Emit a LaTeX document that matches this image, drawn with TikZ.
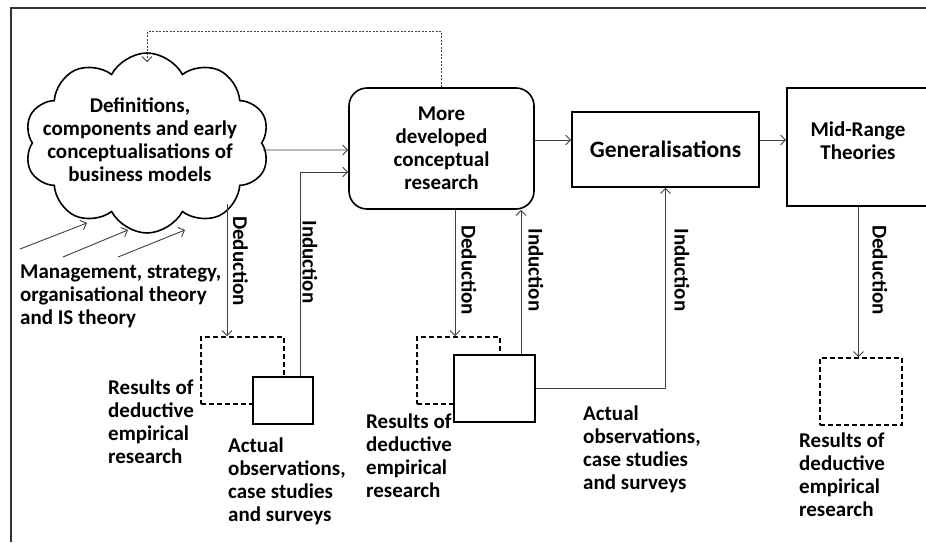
\documentclass[tikz,border=0pt]{standalone}
\usepackage{fontspec}
\setmainfont{Carlito}
\usetikzlibrary{shapes.symbols,arrows.meta}
\begin{document}
\begin{tikzpicture}[x=1pt,y=1pt,
 box/.style={draw, line width=1.6pt, fill=white, inner sep=0pt},
 dbox/.style={draw, line width=1.6pt, dash pattern=on 5pt off 3pt, inner sep=0pt},
 conn/.style={draw=black!75, line width=0.9pt, -{Straight Barb[length=5pt,width=10pt]}},
 txt/.style={font=\fontsize{21}{23}\selectfont\bfseries, inner sep=0pt},
 lbl/.style={txt, align=left, anchor=west},
 vlbl/.style={txt, rotate=-90},
]
\fill[white] (0,0) rectangle (926,542);
\useasboundingbox (0,0) rectangle (926,542);
\draw[line width=1.2pt, black!80] (11,0) -- (11,534) -- (926,534);

% main nodes
\node[cloud, cloud puffs=10, cloud puff arc=125, draw, line width=1.6pt, minimum width=245pt, minimum height=180pt, aspect=1.36] (defs) at (147,399) {};
\node[txt, align=center] (defstext) at (140,402.5) {Definitions,\\components and early\\conceptualisations of\\business models};
\node[box, rounded corners=18pt, minimum width=185pt, minimum height=121pt, align=center, txt] (mdc) at (441.5,393.5) {More\\developed\\conceptual\\research};
\node[box, minimum width=187pt, minimum height=75pt, font=\fontsize{23.5}{26}\selectfont\bfseries] (gen) at (665.5,392.5) {Generalisations};
\node[box, minimum width=143pt, minimum height=118pt] (mrt) at (858.5,395) {};
\node[txt, align=center] (mrttext) at (858,401.5) {Mid-Range\\Theories};

% lower boxes
\node[dbox, minimum width=83pt, minimum height=67pt] (db1) at (242.5,171.5) {};
\node[box, minimum width=60pt, minimum height=47pt] (sb1) at (283,141.5) {};
\node[dbox, minimum width=83pt, minimum height=67pt] (db2) at (458.5,171.5) {};
\node[box, minimum width=81pt, minimum height=67pt] (sb2) at (494.5,153.5) {};
\node[dbox, minimum width=82pt, minimum height=67pt] (db3) at (861,150.5) {};

% texts
\node[lbl] (mgmt) at (20,246) {Management, strategy,\\organisational theory\\and IS theory};
\node[lbl] (res1) at (108,120.5) {Results of\\deductive\\empirical\\research};
\node[lbl] (act1) at (228,60.5) {Actual\\observations,\\case studies\\and surveys};
\node[lbl] (res2) at (366,86) {Results of\\deductive\\empirical\\research};
\node[lbl] (act2) at (583,93) {Actual\\observations,\\case studies\\and surveys};
\node[lbl] (res3) at (799,67) {Results of\\deductive\\empirical\\research};

\node[vlbl] (ded1) at (240.5,281) {Deduction};
\node[vlbl] (ind1) at (310,280) {Induction};
\node[vlbl] (ded2) at (469,272) {Deduction};
\node[vlbl] (ind2) at (536,272) {Induction};
\node[vlbl] (ind3) at (682,272) {Induction};
\node[vlbl] (ded3) at (880,272) {Deduction};

% connectors
\draw[conn] ([yshift=-7pt]defs.east) -- ([yshift=-1.5pt]mdc.west);
\draw[conn] ([yshift=8.5pt]mdc.east) -- ([yshift=9.5pt]gen.west);
\draw[conn] ([yshift=9.5pt]gen.east) -- ([yshift=7pt]mrt.west);
\draw[conn, dash pattern=on 2pt off 1.5pt] (mdc.north) -- ++(0,55.5) -| ([yshift=-10pt]defs.north);

\coordinate (c1) at (227,338);
\draw[conn] (c1) -- (c1 |- db1.north);
\draw[conn] ([xshift=17pt]sb1.north) |- ([yshift=-23.5pt]mdc.west);
\draw[conn] ([xshift=13.5pt]mdc.south) -- ([xshift=-3.5pt]db2.north);
\draw[conn] ([xshift=26.5pt]sb2.north) -- ([xshift=79.5pt]mdc.south);
\draw[conn] (sb2.east) -| (gen.south);
\draw[conn] (mrt.south) -- (mrt.south |- db3.north);

\coordinate (m1s) at (20,293); \coordinate (m1e) at (87,319);
\coordinate (m2s) at (63,285); \coordinate (m2e) at (128,312);
\coordinate (m3s) at (118,285); \coordinate (m3e) at (185,312);
\draw[conn] (m1s) -- (m1e);
\draw[conn] (m2s) -- (m2e);
\draw[conn] (m3s) -- (m3e);
\end{tikzpicture}
\end{document}
